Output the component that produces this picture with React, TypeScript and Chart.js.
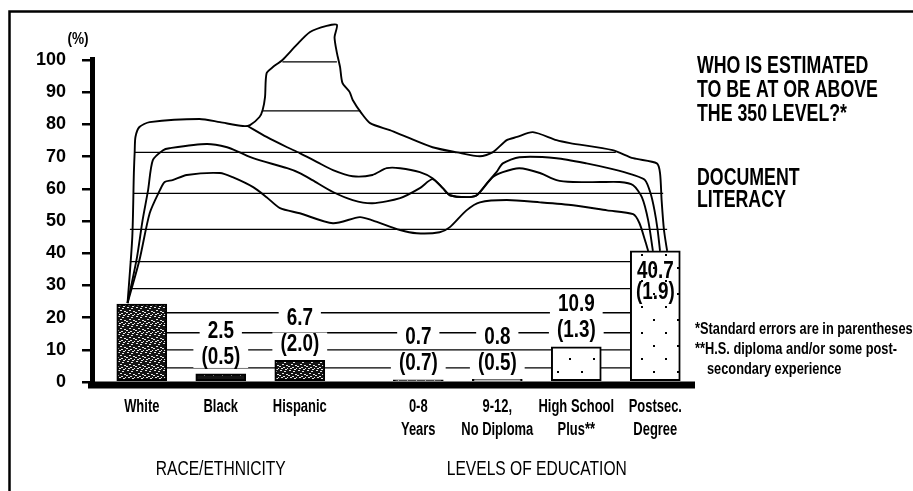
import React, { useEffect, useRef } from 'react';
import { Chart, registerables } from 'chart.js';

Chart.register(...registerables);

// ---------- data ----------
const categoryLabels: string[][] = [
  ['White'], ['Black'], ['Hispanic'], ['0-8', 'Years'], ['9-12,', 'No Diploma'], ['High School', 'Plus**'], ['Postsec.', 'Degree'],
];
const categoryPositions = [0, 1, 2, 3.5, 4.5, 5.5, 6.5];
const percentAtOrAbove350 = [24.2, 2.5, 6.7, 0.7, 0.8, 10.9, 40.7];
const standardErrors: (number | null)[] = [null, 0.5, 2.0, 0.7, 0.5, 1.3, 1.9];

const groupLabels = ['RACE/ETHNICITY', 'LEVELS OF EDUCATION'];
const groupCenters = [1.0, 5.0];

const titleLines = ['WHO IS ESTIMATED', 'TO BE AT OR ABOVE', 'THE 350 LEVEL?*'];
const subtitleLines = ['DOCUMENT', 'LITERACY'];
const footnoteLines = ['*Standard errors are in parentheses', '**H.S. diploma and/or some post-', 'secondary experience'];

// decorative illustration (x in category units, y in percent)
const mountainCurve: number[][] = [
  [-0.18, 24.5], [-0.12, 45], [-0.10, 65], [-0.09, 71.3], [-0.08, 76.1], [-0.03, 79.2], [0.10, 80.7], [0.73, 81.7],
  [0.99, 80.7], [1.28, 79.5], [1.37, 79.8], [1.49, 82.3], [1.53, 84.5], [1.56, 88.5], [1.58, 95.9], [1.66, 97.8],
  [1.78, 100], [1.96, 104.7], [2.13, 108.7], [2.34, 110.6], [2.47, 110.9], [2.44, 107.1], [2.47, 102.2], [2.51, 97.8],
  [2.54, 92.9], [2.63, 90.1], [2.67, 87.6], [2.78, 83.5], [2.89, 80.4], [3.14, 78.2], [3.35, 76.1], [3.68, 72.9],
  [3.99, 71.3], [4.28, 70.1], [4.44, 71.3], [4.62, 75.1], [4.75, 76.1], [4.95, 77.6], [5.25, 75.1], [5.42, 74.2],
  [5.96, 72.0], [6.22, 69.5], [6.52, 67.9], [6.56, 64.9], [6.58, 56.5], [6.61, 47.2], [6.65, 40.7],
];
const upperCurve: number[][] = [
  [1.34, 79.5], [1.58, 76.1], [1.84, 72.9], [2.00, 71.1], [2.22, 68.3], [2.42, 65.8], [2.67, 63.9], [2.92, 64.3],
  [3.10, 66.4], [3.27, 66.4], [3.52, 65.2], [3.68, 63.3], [3.81, 60.2], [3.90, 58.0], [4.11, 57.4], [4.24, 58.0],
  [4.37, 61.8], [4.49, 65.2], [4.57, 67.9], [4.78, 69.8], [5.25, 69.5], [5.63, 67.9], [5.96, 66.1], [6.22, 64.3],
  [6.37, 62.7], [6.44, 58.6], [6.49, 53.3], [6.53, 47.2], [6.56, 40.7],
];
const middleCurve: number[][] = [
  [-0.18, 24.5], [-0.06, 38.8], [0.01, 50.2], [0.08, 59.6], [0.14, 68.9], [0.27, 72.0], [0.35, 72.6], [0.82, 73.9],
  [1.08, 72.9], [1.24, 71.3], [1.41, 69.5], [1.84, 66.4], [2.00, 64.9], [2.16, 62.7], [2.42, 59.0], [2.67, 56.5],
  [2.92, 55.5], [3.27, 57.1], [3.52, 60.2], [3.68, 63.0], [3.81, 60.2], [3.90, 58.0], [4.11, 57.4], [4.24, 58.0],
  [4.44, 63.6], [4.57, 65.2], [4.78, 66.4], [5.04, 64.9], [5.25, 62.7], [5.46, 62.1], [5.80, 62.1], [6.05, 62.1],
  [6.22, 61.1], [6.33, 57.4], [6.41, 50.2], [6.47, 40.7],
];
const lowerCurve: number[][] = [
  [-0.18, 24.5], [-0.03, 37.8], [0.10, 52.4], [0.23, 59.6], [0.29, 62.1], [0.39, 62.7], [0.57, 64.3], [0.99, 64.9],
  [1.15, 63.6], [1.41, 60.5], [1.58, 57.4], [1.75, 54.0], [2.00, 52.4], [2.42, 49.3], [2.76, 51.2], [2.92, 50.2],
  [3.27, 47.2], [3.48, 46.2], [3.77, 46.5], [3.90, 48.1], [4.11, 53.3], [4.28, 55.8], [4.62, 56.5], [5.04, 55.8],
  [5.46, 54.9], [5.89, 53.3], [6.22, 52.1], [6.30, 49.3], [6.37, 44.0], [6.41, 40.7],
];
const guideLevels = [99.4, 84.2, 71.3, 58.6, 47.4, 37.4, 29.0, 21.5, 15.3, 10.0, 4.4];
const guideFrom = [1.78, 1.53, -0.09, -0.10, -0.15, -0.15, -0.15, 0, 0, 0, 0];
const guideTo = [2.47, 2.77, 6.0, 6.6, 6.65, 6.3, 6.3, 6.3, 6.3, 6.3, 6.3];

const FONT = "'Liberation Sans', Arial, sans-serif";

function fillCondensed(ctx: CanvasRenderingContext2D, text: string, x: number, y: number, f: number) {
  ctx.save();
  ctx.translate(x, y);
  ctx.scale(f, 1);
  ctx.fillText(text, 0, 0);
  ctx.restore();
}

function makeSpeckle(dense: boolean): CanvasPattern | string {
  const c = document.createElement('canvas');
  c.width = 9; c.height = 9;
  const g = c.getContext('2d');
  if (!g) return '#111';
  g.fillStyle = '#141414';
  g.fillRect(0, 0, 9, 9);
  g.fillStyle = '#e8e8e8';
  const dots = dense
    ? [[1, 1], [5, 2], [3, 4], [7, 5], [0, 6], [4, 7], [8, 8], [2, 8], [6, 0]]
    : [[2, 2], [6, 6]];
  dots.forEach(([a, b]) => g.fillRect(a, b, dense ? 2 : 1, 1));
  return g.createPattern(c, 'repeat') || '#111';
}
function makeDots(): CanvasPattern | string {
  const c = document.createElement('canvas');
  c.width = 24; c.height = 26;
  const g = c.getContext('2d');
  if (!g) return '#fff';
  g.fillStyle = '#fff';
  g.fillRect(0, 0, 24, 26);
  g.fillStyle = '#000';
  g.fillRect(5, 7, 2, 2);
  g.fillRect(17, 20, 2, 2);
  return g.createPattern(c, 'repeat') || '#fff';
}

const toPoints = (arr: number[][]) => arr.map(([x, y]) => ({ x, y }));

export default function App() {
  const ref = useRef<HTMLCanvasElement>(null);
  useEffect(() => {
    document.body.style.margin = '0';
    if (!ref.current) return;
    const speck = makeSpeckle(true);
    const speckLight = makeSpeckle(false);
    const dots = makeDots();
    const barFills = [speck, speckLight, speck, speckLight, '#ffffff', dots, dots];

    const guidePoints: { x: number; y: number | null }[] = [];
    guideLevels.forEach((lv, i) => {
      guidePoints.push({ x: guideFrom[i], y: lv });
      guidePoints.push({ x: guideTo[i], y: lv });
      guidePoints.push({ x: guideTo[i], y: null });
    });

    const decor = {
      id: 'decor',
      beforeDraw(chart: any) {
        const { ctx } = chart;
        ctx.save();
        ctx.fillStyle = '#fff';
        ctx.fillRect(0, 0, chart.width, chart.height);
        ctx.restore();
        // condensed x tick labels (the original uses a narrow typeface)
        const xs = chart.scales.x;
        if (xs && !xs.__condensed) {
          const orig = xs.drawLabels.bind(xs);
          xs.drawLabels = (area: any) => {
            const c = chart.ctx;
            const of = c.fillText;
            c.fillText = function (t: string, x: number, y: number) {
              this.save();
              this.translate(x, y);
              this.scale(0.72, 1);
              of.call(this, t, 0, 0);
              this.restore();
            };
            try {
              orig(area);
            } finally {
              c.fillText = of;
            }
          };
          xs.__condensed = true;
        }
      },
      afterDatasetsDraw(chart: any) {
        const { ctx, chartArea, scales } = chart;
        const xs = scales.x;
        const ys = scales.y;
        const y0 = ys.getPixelForValue(0);
        const yTop = ys.getPixelForValue(100);
        ctx.save();
        ctx.fillStyle = '#000';
        // baseline and y axis
        ctx.fillRect(chartArea.left - 4, y0 - 0.5, chartArea.right - chartArea.left + 5, 7);
        ctx.fillRect(chartArea.left - 2, yTop - 3, 5, y0 + 6 - (yTop - 3));

        // value labels
        ctx.textAlign = 'center';
        ctx.textBaseline = 'middle';
        percentAtOrAbove350.forEach((v, i) => {
          const se = standardErrors[i];
          if (se === null) return;
          const px = xs.getPixelForValue(categoryPositions[i]);
          const top = ys.getPixelForValue(v);
          const inside = v > 30;
          const lines = [v.toFixed(1), '(' + se.toFixed(1) + ')'];
          const yy = inside ? [top + 20, top + 41] : [top - 43, top - 17];
          ctx.font = `bold 23px ${FONT}`;
          lines.forEach((t, k) => {
            const w = ctx.measureText(t).width * 0.82;
            if (!inside) {
              ctx.fillStyle = '#fff';
              ctx.fillRect(px - w / 2 - 8, yy[k] - 11, w + 16, 22);
            }
            ctx.fillStyle = '#000';
            fillCondensed(ctx, t, px, yy[k] + 1, 0.82);
          });
        });

        // group labels
        ctx.font = `20px ${FONT}`;
        ctx.fillStyle = '#000';
        groupLabels.forEach((t, i) => {
          fillCondensed(ctx, t, xs.getPixelForValue(groupCenters[i]), 469, 0.78);
        });

        // (%)
        ctx.font = `bold 16px ${FONT}`;
        fillCondensed(ctx, '(%)', 78, 40, 0.85);

        // right texts
        ctx.textAlign = 'left';
        ctx.font = `bold 24px ${FONT}`;
        titleLines.forEach((t, i) => fillCondensed(ctx, t, 697, 66 + i * 24, 0.74));
        subtitleLines.forEach((t, i) => fillCondensed(ctx, t, 697, 178 + i * 22, 0.74));
        ctx.font = `bold 16px ${FONT}`;
        footnoteLines.forEach((t, i) => fillCondensed(ctx, t, i === 2 ? 707 : 695, 330 + i * 20, 0.8));

        // frame
        ctx.strokeStyle = '#000';
        ctx.lineWidth = 2.5;
        ctx.beginPath();
        ctx.moveTo(9.5, chart.height);
        ctx.lineTo(9.5, 11.5);
        ctx.lineTo(chart.width, 11.5);
        ctx.stroke();
        ctx.restore();
      },
    };

    const curveStyle = {
      type: 'line' as const,
      borderColor: '#000',
      borderWidth: 1.9,
      pointRadius: 0,
      tension: 0.25,
      fill: false,
      clip: false as any,
      order: 1,
    };

    const chart = new Chart(ref.current, {
      type: 'bar',
      data: {
        datasets: [
          {
            type: 'bar',
            label: 'Percent at or above 350',
            data: categoryPositions.map((x, i) => ({ x, y: percentAtOrAbove350[i] })),
            backgroundColor: barFills as any,
            borderColor: '#000',
            borderWidth: 2,
            borderSkipped: false,
            barThickness: 50,
            order: 0,
          } as any,
          { ...curveStyle, label: 'c1', data: toPoints(mountainCurve) } as any,
          { ...curveStyle, label: 'c2', data: toPoints(upperCurve) } as any,
          { ...curveStyle, label: 'c3', data: toPoints(middleCurve) } as any,
          { ...curveStyle, label: 'c4', data: toPoints(lowerCurve) } as any,
          {
            type: 'line',
            label: 'guides',
            data: guidePoints as any,
            borderColor: '#000',
            borderWidth: 1.3,
            pointRadius: 0,
            tension: 0,
            spanGaps: false,
            clip: false as any,
            order: 2,
          } as any,
        ],
      },
      options: {
        responsive: false,
        animation: false,
        events: [],
        layout: { padding: { left: 0, right: 219, top: 60, bottom: 0 } },
        plugins: { legend: { display: false }, tooltip: { enabled: false } },
        scales: {
          x: {
            type: 'linear',
            offset: false,
            min: -0.63,
            max: 6.99,
            grid: { display: false, drawTicks: false, offset: false },
            border: { display: false },
            afterBuildTicks: (s: any) => {
              s.ticks = categoryPositions.map((v) => ({ value: v }));
            },
            afterFit: (s: any) => {
              s.height = 109;
            },
            ticks: {
              autoSkip: false,
              maxRotation: 0,
              padding: 13,
              color: '#000',
              font: { family: FONT, size: 18, weight: 'bold', lineHeight: 1.3 },
              callback: (_v: any, i: number) => categoryLabels[i],
            },
          },
          y: {
            min: 0,
            max: 100,
            afterFit: (s: any) => {
              s.width = 92;
            },
            ticks: { stepSize: 10, padding: 16, color: '#000', font: { family: FONT, size: 18, weight: 'bold' } },
            grid: { drawOnChartArea: false, drawTicks: true, tickLength: 10, lineWidth: 2.5, color: '#000' },
            border: { display: false },
          },
        },
      } as any,
      plugins: [decor],
    });
    return () => chart.destroy();
  }, []);

  return (
    <div style={{ position: 'relative', width: 913, height: 491 }}>
      <canvas ref={ref} width={913} height={491} style={{ display: 'block' }} />
    </div>
  );
}
